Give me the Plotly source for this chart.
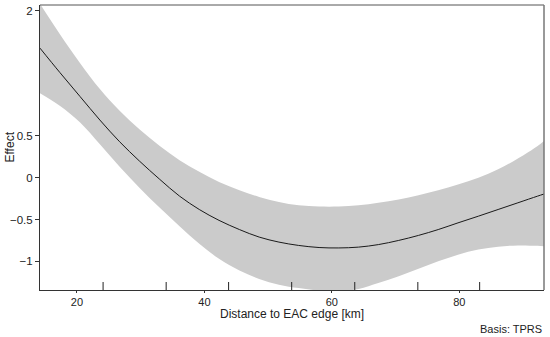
import plotly.graph_objects as go

distance = [14.2, 17.3, 20.5, 23.6, 26.7, 29.8, 33.0, 36.1, 39.2, 42.3, 45.5, 48.6, 51.7, 54.8,
            58.0, 61.1, 64.2, 67.3, 70.5, 73.6, 76.7, 79.8, 83.0, 86.1, 89.2, 92.3, 93.3]
effect = [1.55, 1.26, 0.97, 0.69, 0.43, 0.20, -0.02, -0.22, -0.38, -0.51, -0.62, -0.71, -0.77, -0.81,
          -0.835, -0.84, -0.83, -0.80, -0.75, -0.69, -0.62, -0.54, -0.46, -0.38, -0.30, -0.22, -0.195]
upper = [2.08, 1.72, 1.37, 1.06, 0.80, 0.58, 0.38, 0.21, 0.07, -0.05, -0.15, -0.23, -0.29, -0.33,
         -0.345, -0.345, -0.33, -0.30, -0.26, -0.21, -0.15, -0.08, 0.00, 0.10, 0.23, 0.38, 0.44]
lower = [1.01, 0.86, 0.66, 0.40, 0.13, -0.12, -0.36, -0.58, -0.79, -0.97, -1.11, -1.21, -1.28, -1.32,
         -1.35, -1.36, -1.33, -1.26, -1.18, -1.09, -1.00, -0.92, -0.86, -0.825, -0.81, -0.815, -0.82]
rug_x = [24.1, 34.0, 43.8, 53.7, 63.6, 73.5, 83.2]
x_ticks = [20, 40, 60, 80]
y_ticks = [-1, -0.5, 0, 0.5, 2]
y_tick_labels = ["\u22121", "\u22120.5", "0", "0.5", "2"]

x_range = [14.2, 93.3]
y_range = [-1.343, 2.066]

fig = go.Figure()
fig.add_trace(go.Scatter(x=distance, y=upper, mode="lines", line=dict(width=0, shape="spline"),
                         hoverinfo="skip", showlegend=False))
fig.add_trace(go.Scatter(x=distance, y=lower, mode="lines", line=dict(width=0, shape="spline"),
                         fill="tonexty", fillcolor="#cbcbcb", hoverinfo="skip", showlegend=False))
fig.add_trace(go.Scatter(x=distance, y=effect, mode="lines",
                         line=dict(color="#1a1a1a", width=1, shape="spline"), showlegend=False))

rug_len = (y_range[1] - y_range[0]) * 8 / 285
rx, ry = [], []
for v in rug_x:
    rx += [v, v, None]
    ry += [y_range[0], y_range[0] + rug_len, None]
fig.add_trace(go.Scatter(x=rx, y=ry, mode="lines", line=dict(color="#222", width=1),
                         hoverinfo="skip", showlegend=False, cliponaxis=False))

fig.update_layout(
    width=550, height=337,
    margin=dict(l=40, r=6, t=5, b=47),
    paper_bgcolor="white", plot_bgcolor="white",
    font=dict(family="Liberation Sans, Arial, sans-serif", size=12, color="#222"),
    xaxis=dict(range=x_range, tickvals=x_ticks, ticks="outside", ticklen=2, tickcolor="#333",
               showgrid=False, zeroline=False, showline=True, linecolor="#333", linewidth=1,
               automargin=False, tickfont=dict(size=11, color="#222")),
    yaxis=dict(range=y_range, tickvals=y_ticks, ticktext=y_tick_labels, ticks="outside", ticklen=4,
               tickcolor="#333", showgrid=False, zeroline=False, showline=True, linecolor="#333",
               linewidth=1, automargin=False, tickfont=dict(size=11.5, color="#222")),
    shapes=[
        dict(type="line", xref="paper", yref="paper", x0=0, x1=1, y0=1, y1=1,
             line=dict(color="#555", width=1)),
        dict(type="line", xref="paper", yref="paper", x0=1, x1=1, y0=0, y1=1,
             line=dict(color="#777", width=1.5)),
    ],
    annotations=[
        dict(text="Distance to EAC edge [km]", xref="paper", yref="paper", x=0.5, y=0,
             xanchor="center", yanchor="middle", yshift=-24, showarrow=False,
             font=dict(size=12, color="#222")),
        dict(text="Effect", xref="paper", yref="paper", x=0, y=0.5, textangle=-90,
             xanchor="center", yanchor="middle", xshift=-31, showarrow=False,
             font=dict(size=12, color="#222")),
        dict(text="Basis: TPRS", xref="paper", yref="paper", x=1, y=0,
             xanchor="right", yanchor="top", yshift=-31, showarrow=False,
             font=dict(size=11, color="#222")),
    ],
)

fig.write_html("out.html", config={"displayModeBar": False})

with open("out.html", "r", encoding="utf-8") as f:
    html = f.read()
html = html.replace("<head>", "<head><style>html,body{margin:0;padding:0;overflow:hidden;}</style>", 1)
with open("out.html", "w", encoding="utf-8") as f:
    f.write(html)
